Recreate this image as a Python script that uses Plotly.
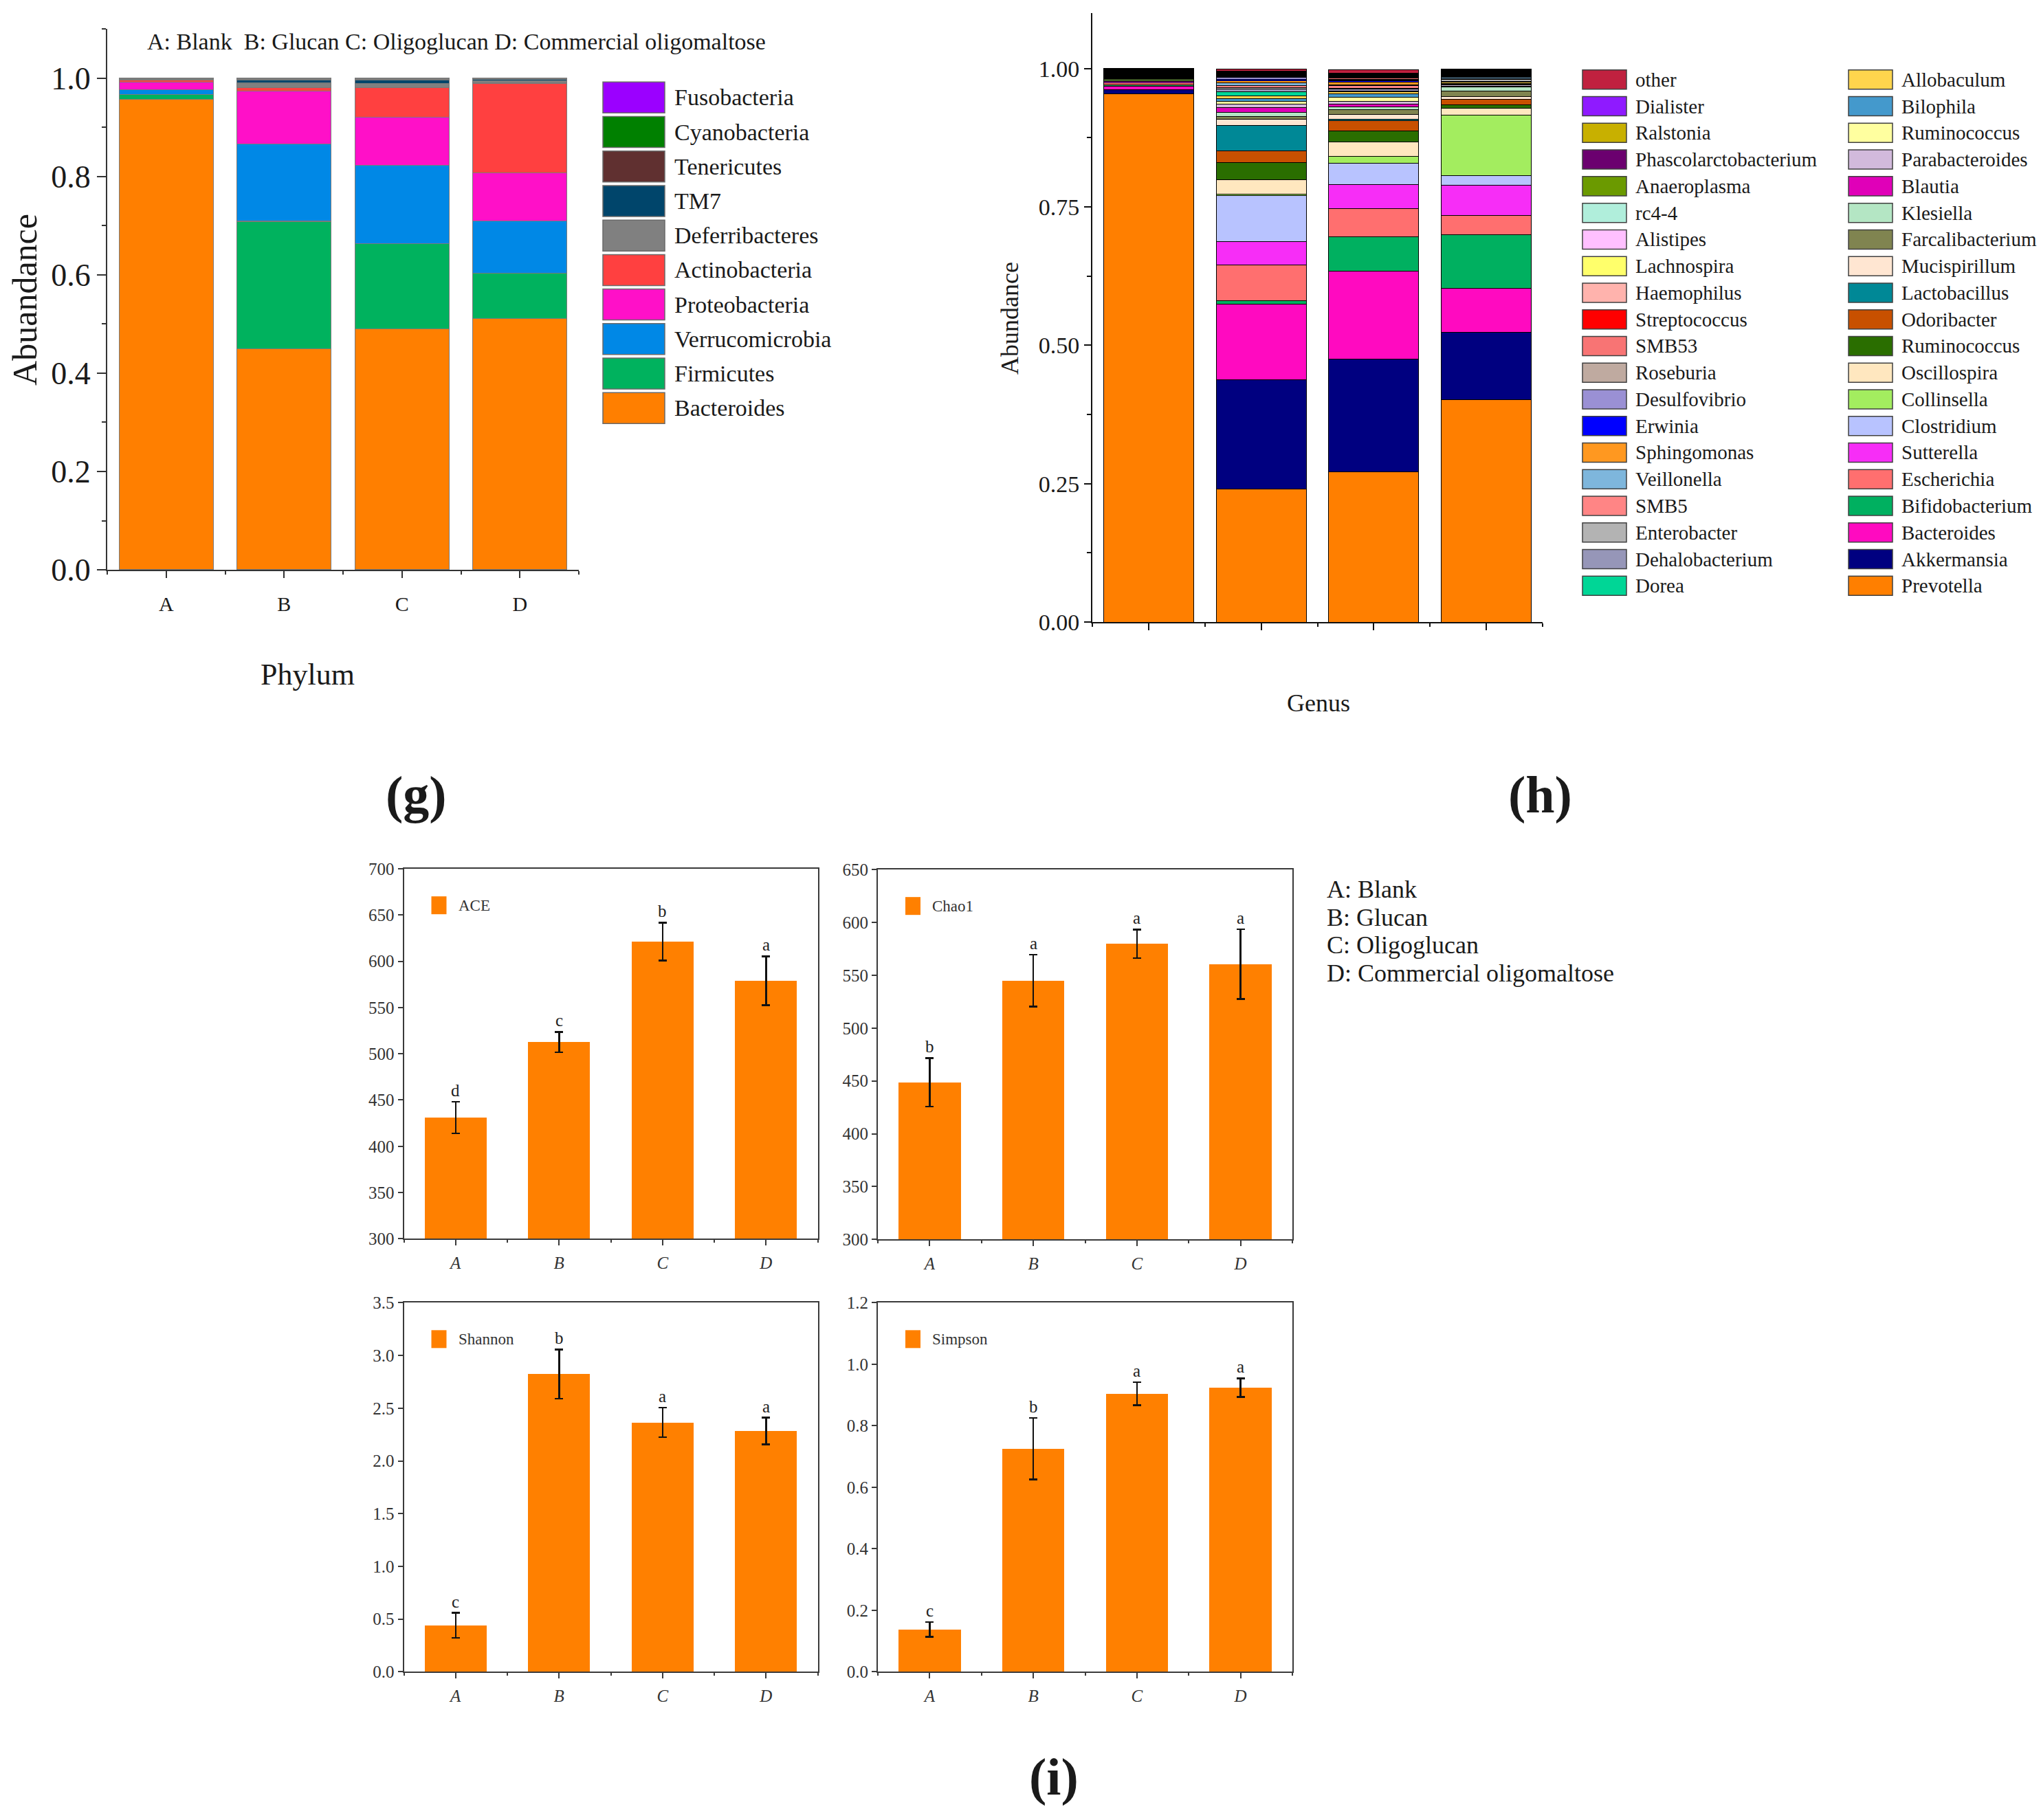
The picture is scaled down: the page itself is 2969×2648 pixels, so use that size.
import plotly.graph_objects as go

W, H = 2969, 2648
SERIF = "Liberation Serif, Times New Roman, serif"
INK = "#1a1a1a"
GREY_INK = "#333333"

# ---------------- data ----------------
groups = ["A", "B", "C", "D"]
group_pos = [0, 1, 2, 3]

# panel (g) – phylum, stack order bottom -> top
phyla = ["Bacteroides", "Firmicutes", "Verrucomicrobia", "Proteobacteria", "Actinobacteria",
         "Deferribacteres", "TM7", "Tenericutes", "Cyanobacteria", "Fusobacteria"]
phylum_colors = ["#ff7f00", "#00b25e", "#0088e6", "#ff10c8", "#ff4040",
                 "#808080", "#00456b", "#603030", "#008000", "#9b00ff"]
phylum_A = [0.957, 0.010, 0.010, 0.015, 0.004, 0.002, 0.001, 0.001, 0.000, 0.000]
phylum_B = [0.450, 0.259, 0.157, 0.108, 0.007, 0.009, 0.007, 0.002, 0.001, 0.000]
phylum_C = [0.490, 0.174, 0.159, 0.098, 0.060, 0.008, 0.007, 0.002, 0.001, 0.001]
phylum_D = [0.511, 0.092, 0.107, 0.097, 0.183, 0.005, 0.003, 0.001, 0.001, 0.000]

# panel (h) – genus, stack order bottom -> top
genera = ["Prevotella", "Akkermansia", "Bacteroides", "Bifidobacterium", "Escherichia",
          "Sutterella", "Clostridium", "Collinsella", "Oscillospira", "Ruminococcus",
          "Odoribacter", "Lactobacillus", "Mucispirillum", "Farcalibacterium", "Klesiella",
          "Blautia", "Parabacteroides", "Ruminococcus", "Bilophila", "Allobaculum",
          "Dorea", "Dehalobacterium", "Enterobacter", "SMB5", "Veillonella",
          "Sphingomonas", "Erwinia", "Desulfovibrio", "Roseburia", "SMB53",
          "Streptococcus", "Haemophilus", "Lachnospira", "Alistipes", "rc4-4",
          "Anaeroplasma", "Phascolarctobacterium", "Ralstonia", "Dialister", "other"]
genus_colors = ["#ff7f00", "#000080", "#ff0ac0", "#00b060", "#ff6f6f",
                "#f72df7", "#b8c3ff", "#a3ed5f", "#ffe7bf", "#2a6e00",
                "#c85000", "#008896", "#ffe6d2", "#808450", "#b4e6c4",
                "#e000b8", "#d2badc", "#ffff9f", "#4499cc", "#ffd54d",
                "#00d696", "#9696b8", "#b3b3b3", "#ff8585", "#7eb6dc",
                "#ff9820", "#0000ff", "#9a90d4", "#bfaaa0", "#f87474",
                "#ff0000", "#ffb3ad", "#ffff6b", "#ffc0ff", "#b0eedb",
                "#6b9a00", "#6b006f", "#c8b000", "#8f1aff", "#c0213f"]
genus_A = [0.954, 0.0085, 0.006, 0.0025, 0.003, 0.0025, 0.001, 0.0025, 0.001, 0.001,
           0.0005, 0.0005, 0.0005, 0.0005, 0.0005, 0.0005, 0.0005, 0.0005, 0.0005, 0.0005,
           0.0005, 0.0005, 0.0005, 0.0005, 0.0005, 0.0005, 0.0005, 0.0005, 0.0008, 0.0008,
           0.0008, 0.0008, 0.0008, 0.0008, 0.0008, 0.0008, 0.0008, 0.0008, 0.0008, 0.0005]
genus_B = [0.240, 0.198, 0.136, 0.007, 0.064, 0.043, 0.083, 0.002, 0.026, 0.031,
           0.021, 0.046, 0.012, 0.0045, 0.008, 0.0087, 0.0058, 0.0054, 0.0041, 0.0054,
           0.0075, 0.005, 0.002, 0.004, 0.0045, 0.004, 0.003, 0.0037, 0.001, 0.001,
           0.001, 0.001, 0.001, 0.001, 0.001, 0.001, 0.001, 0.001, 0.001, 0.004]
genus_C = [0.272, 0.2036, 0.1584, 0.0625, 0.050, 0.0438, 0.0389, 0.0118, 0.0271, 0.0195,
           0.0188, 0.002, 0.009, 0.008, 0.006, 0.004, 0.006, 0.007, 0.006, 0.004,
           0.001, 0.0035, 0.002, 0.005, 0.001, 0.005, 0.002, 0.002, 0.001, 0.0015,
           0.001, 0.001, 0.001, 0.001, 0.001, 0.001, 0.001, 0.001, 0.001, 0.006]
genus_D = [0.4024, 0.1216, 0.0785, 0.0973, 0.0354, 0.0535, 0.0181, 0.109, 0.013, 0.0062,
           0.009, 0.001, 0.004, 0.011, 0.007, 0.001, 0.003, 0.001, 0.001, 0.002,
           0.001, 0.001, 0.004, 0.001, 0.002, 0.001, 0.001, 0.001, 0.001, 0.001,
           0.001, 0.001, 0.001, 0.001, 0.001, 0.001, 0.001, 0.001, 0.001, 0.001]

# panel (i) – alpha diversity
ace_mean = [431.0, 512.6, 621.4, 579.0]
ace_err = [17.0, 11.0, 20.5, 26.5]
ace_sig = ["d", "c", "b", "a"]
chao1_mean = [448.6, 544.9, 579.8, 560.4]
chao1_err = [23.0, 24.7, 13.5, 33.0]
chao1_sig = ["b", "a", "a", "a"]
shannon_mean = [0.441, 2.824, 2.365, 2.284]
shannon_err = [0.118, 0.233, 0.139, 0.126]
shannon_sig = ["c", "b", "a", "a"]
simpson_mean = [0.138, 0.725, 0.904, 0.924]
simpson_err = [0.024, 0.100, 0.037, 0.030]
simpson_sig = ["c", "b", "a", "a"]

group_key = ["A: Blank", "B: Glucan", "C: Oligoglucan", "D: Commercial oligomaltose"]
bar_orange = "#ff8000"


def px_x(p):
    return p / W


def px_y(p):
    # map a pixel row of the target picture to paper coordinates
    return 1 - ((p - 14.2) / 0.985) / H


fig = go.Figure()
shapes = []
annotations = []

# ---------------- panel g traces ----------------
phylum_by_group = [phylum_A, phylum_B, phylum_C, phylum_D]
for i, name in enumerate(phyla):
    fig.add_trace(go.Bar(
        x=group_pos, y=[g[i] for g in phylum_by_group], name=name,
        marker=dict(color=phylum_colors[i], line=dict(color="#7a7a7a", width=1.2)),
        width=0.8, xaxis="x", yaxis="y", showlegend=False))

# ---------------- panel h traces ----------------
genus_by_group = [genus_A, genus_B, genus_C, genus_D]
for i, name in enumerate(genera):
    fig.add_trace(go.Bar(
        x=group_pos, y=[g[i] for g in genus_by_group], name=name,
        marker=dict(color=genus_colors[i], line=dict(color="#000000", width=1)),
        width=0.8, xaxis="x2", yaxis="y2", showlegend=False))

# ---------------- panel i traces ----------------
panels_i = [
    ("ACE", ace_mean, ace_err, ace_sig, "3"),
    ("Chao1", chao1_mean, chao1_err, chao1_sig, "4"),
    ("Shannon", shannon_mean, shannon_err, shannon_sig, "5"),
    ("Simpson", simpson_mean, simpson_err, simpson_sig, "6"),
]
for name, mean, err, sig, k in panels_i:
    fig.add_trace(go.Bar(
        x=group_pos, y=mean, name=name, width=0.6,
        marker=dict(color=bar_orange, line=dict(width=0)),
        error_y=dict(type="data", array=err, visible=True, color="#111111",
                     thickness=2.5, width=6),
        xaxis="x" + k, yaxis="y" + k, showlegend=False))
    for gx, m, e, s in zip(group_pos, mean, err, sig):
        annotations.append(dict(x=gx, y=m + e, xref="x" + k, yref="y" + k, text=s,
                                showarrow=False, yanchor="bottom", yshift=1,
                                font=dict(family=SERIF, size=25, color="#222")))

# ---------------- axes ----------------
def base_x(domain, labels=True, tick_size=30, italic=False, mirror=False, standoff=20, lc=GREY_INK):
    ticktext = ["<i>%s</i>" % g for g in groups] if italic else groups
    return dict(domain=domain, range=[-0.5, 3.5], tickvals=group_pos, ticktext=ticktext,
                showticklabels=labels, showline=True, linecolor=lc, linewidth=2,
                mirror=mirror, ticks="outside", ticklen=10, tickwidth=2, tickcolor=lc,
                minor=dict(ticks="outside", tick0=0.5, dtick=1, ticklen=5, tickwidth=2,
                           tickcolor=lc),
                tickfont=dict(family=SERIF, size=tick_size, color=INK),
                ticklabelstandoff=standoff, showgrid=False, zeroline=False, fixedrange=True)


def base_y(domain, rng, dtick, fmt, tick_size, minor_dtick=None, mirror=False, lc=GREY_INK,
           ticklen=12, color=INK):
    d = dict(domain=domain, range=rng, tick0=rng[0], dtick=dtick, tickformat=fmt,
             showline=True, linecolor=lc, linewidth=2, mirror=mirror,
             ticks="outside", ticklen=ticklen, tickwidth=2, tickcolor=lc,
             tickfont=dict(family=SERIF, size=tick_size, color=color),
             showgrid=False, zeroline=False, fixedrange=True)
    if minor_dtick:
        d["minor"] = dict(ticks="outside", dtick=minor_dtick, ticklen=6, tickwidth=2,
                          tickcolor=lc)
    return d


layout_axes = {}
# g
layout_axes["xaxis"] = base_x([px_x(156), px_x(842)], tick_size=30, standoff=12)
layout_axes["xaxis"]["anchor"] = "y"
layout_axes["yaxis"] = base_y([px_y(830), px_y(43.5)], [0, 1.1], 0.2, ".1f", 46, 0.1, ticklen=13)
layout_axes["yaxis"]["anchor"] = "x"
# h
layout_axes["xaxis2"] = base_x([px_x(1589), px_x(2244)], labels=False, lc="#111")
layout_axes["xaxis2"]["anchor"] = "y2"
layout_axes["yaxis2"] = base_y([px_y(906), px_y(20.5)], [0, 1.1], 0.25, ".2f", 34, 0.125,
                               lc="#111", ticklen=10)
layout_axes["yaxis2"]["anchor"] = "x2"
# i
i_boxes = {
    "3": ([587.5, 1189.5], [1803, 1265], [300, 700], 50, ",d"),
    "4": ([1277, 1880], [1804, 1266], [300, 650], 50, ",d"),
    "5": ([587.5, 1189.5], [2433, 1896], [0, 3.5], 0.5, ".1f"),
    "6": ([1277, 1880], [2433, 1896], [0, 1.2], 0.2, ".1f"),
}
for k, (xd, yd, rng, dt, fmt) in i_boxes.items():
    xa = base_x([px_x(xd[0]), px_x(xd[1])], tick_size=25, italic=True, mirror=True,
                standoff=4, lc="#3a3a3a")
    xa["ticklen"] = 8
    xa["minor"]["ticklen"] = 4
    xa["tickfont"]["color"] = GREY_INK
    xa["anchor"] = "y" + k
    ya = base_y([px_y(yd[0]), px_y(yd[1])], rng, dt, fmt, 25, None, mirror=True,
                lc="#3a3a3a", ticklen=7, color=GREY_INK)
    ya["anchor"] = "x" + k
    layout_axes["xaxis" + k] = xa
    layout_axes["yaxis" + k] = ya

# ---------------- legends (drawn as swatches + text) ----------------
# phylum legend (top entry = top of stack)
for row, idx in enumerate(reversed(range(len(phyla)))):
    cy = 143 + row * 50.2
    shapes.append(dict(type="rect", xref="paper", yref="paper",
                       x0=px_x(877), x1=px_x(967), y0=px_y(cy + 22.5), y1=px_y(cy - 22.5),
                       fillcolor=phylum_colors[idx], line=dict(color="#6a6a6a", width=1.5)))
    annotations.append(dict(x=px_x(979), y=px_y(cy), xref="paper", yref="paper",
                            text=phyla[idx], showarrow=False, xanchor="left", yanchor="middle",
                            font=dict(family=SERIF, size=34, color=INK)))

# genus legend: two columns of 20
for k, idx in enumerate(reversed(range(len(genera)))):
    col, row = divmod(k, 20)
    cy = 117 + row * 38.75
    x0 = 2302 if col == 0 else 2689
    shapes.append(dict(type="rect", xref="paper", yref="paper",
                       x0=px_x(x0), x1=px_x(x0 + 64), y0=px_y(cy + 14), y1=px_y(cy - 14),
                       fillcolor=genus_colors[idx], line=dict(color="#404040", width=1.5)))
    annotations.append(dict(x=px_x(x0 + 75), y=px_y(cy), xref="paper", yref="paper",
                            text=genera[idx], showarrow=False, xanchor="left", yanchor="middle",
                            font=dict(family=SERIF, size=29, color=INK)))

# alpha-diversity in-plot keys
for name, mean, err, sig, k in panels_i:
    xd, yd = i_boxes[k][0], i_boxes[k][1]
    left, top = xd[0], yd[1]
    shapes.append(dict(type="rect", xref="paper", yref="paper",
                       x0=px_x(left + 40), x1=px_x(left + 62),
                       y0=px_y(top + 66), y1=px_y(top + 40),
                       fillcolor=bar_orange, line=dict(width=0)))
    annotations.append(dict(x=px_x(left + 77), y=px_y(top + 53), xref="paper", yref="paper",
                            text=name, showarrow=False, xanchor="left", yanchor="middle",
                            font=dict(family=SERIF, size=23, color=GREY_INK)))

# ---------------- texts ----------------
def text(x, y, s, size, angle=0, anchor="center", color=INK):
    annotations.append(dict(x=px_x(x), y=px_y(y), xref="paper", yref="paper", text=s,
                            showarrow=False, xanchor=anchor, yanchor="middle", textangle=angle,
                            font=dict(family=SERIF, size=size, color=color)))


text(212, 62, "A: Blank&nbsp;&nbsp;B: Glucan C: Oligoglucan D: Commercial oligomaltose", 34,
     anchor="left")
text(36, 437, "Abuandance", 50, angle=-90)
text(447, 982, "Phylum", 44)
text(1469, 464, "Abundance", 36, angle=-90)
text(1918, 1024, "Genus", 36)
for j, s in enumerate(group_key):
    text(1928, 1295 + j * 40.5, s, 36, anchor="left")
text(605, 1157, "<b>(g)</b>", 76)
text(2240, 1157, "<b>(h)</b>", 76)
text(1533, 2586, "<b>(i)</b>", 76)

fig.update_layout(
    width=W, height=H, autosize=False,
    margin=dict(l=0, r=0, t=0, b=0, pad=0),
    paper_bgcolor="white", plot_bgcolor="white",
    barmode="stack", bargap=0.2,
    showlegend=False,
    shapes=shapes, annotations=annotations,
    **layout_axes,
)

fig.write_html("out.html", config={"displayModeBar": False},
               post_script="document.body.style.margin='0';document.body.style.padding='0';")
